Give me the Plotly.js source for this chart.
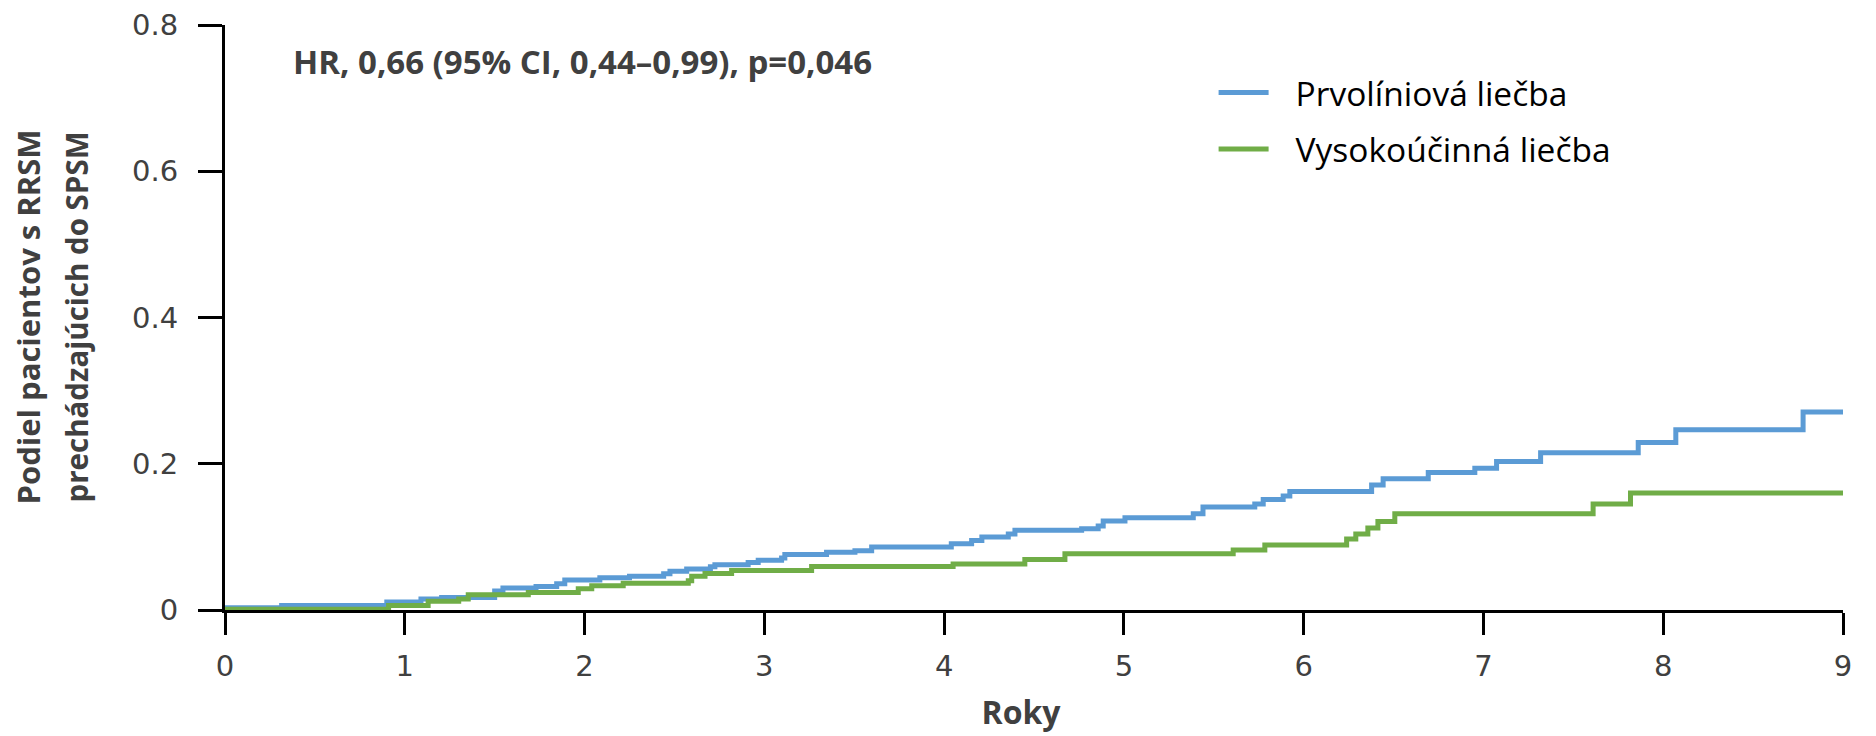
<!DOCTYPE html>
<html>
<head>
<meta charset="utf-8">
<script src="https://cdn.plot.ly/plotly-3.0.1.min.js"></script>
<style>html,body{margin:0;padding:0;background:#fff;}#chart{width:1876px;height:736px;}</style>
</head>
<body>
<div id="chart"></div>
<script>
// Series names
const seriesNames = ["Prvolíniová liečba", "Vysokoúčinná liečba"];

// Blue curve: step times (years) and cumulative proportion
const firstLineTimes = [0, 0.315, 0.90, 1.09, 1.205, 1.50, 1.546, 1.73, 1.845, 1.89, 2.085, 2.25, 2.44, 2.475, 2.568, 2.70, 2.725, 2.91, 2.966, 3.096, 3.114, 3.346, 3.504, 3.597, 4.04, 4.153, 4.21, 4.357, 4.394, 4.765, 4.857, 4.885, 5.006, 5.386, 5.44, 5.728, 5.775, 5.886, 5.923, 6.378, 6.442, 6.693, 6.952, 7.073, 7.318, 7.861, 8.07, 8.778, 9.0];
const firstLineValues = [0.003, 0.006, 0.011, 0.015, 0.017, 0.026, 0.030, 0.032, 0.036, 0.041, 0.044, 0.046, 0.0495, 0.053, 0.056, 0.059, 0.062, 0.065, 0.068, 0.071, 0.076, 0.079, 0.081, 0.086, 0.0905, 0.095, 0.0997, 0.104, 0.109, 0.111, 0.115, 0.1216, 0.126, 0.1317, 0.1407, 0.145, 0.151, 0.156, 0.162, 0.171, 0.1795, 0.188, 0.194, 0.203, 0.215, 0.229, 0.2466, 0.2707, 0.2707];

// Green curve
const highEffTimes = [0, 0.91, 1.13, 1.30, 1.353, 1.687, 1.965, 2.04, 2.215, 2.577, 2.596, 2.67, 2.818, 3.263, 4.05, 4.449, 4.672, 5.608, 5.784, 6.239, 6.29, 6.357, 6.413, 6.507, 7.61, 7.818, 9.0];
const highEffValues = [0.001, 0.006, 0.012, 0.015, 0.021, 0.024, 0.029, 0.033, 0.0367, 0.040, 0.046, 0.050, 0.054, 0.0595, 0.063, 0.069, 0.077, 0.082, 0.089, 0.097, 0.104, 0.112, 0.121, 0.1317, 0.145, 0.160, 0.160];

// Axis ticks
const xTickVals = [0, 1, 2, 3, 4, 5, 6, 7, 8, 9];
const yTickVals = [0, 0.2, 0.4, 0.6, 0.8];
const yTickText = ["0", "0.2", "0.4", "0.6", "0.8"];

// Texts
const xTitle = "Roky";
const yTitleLines = ["Podiel pacientov s RRSM", "prechádzajúcich do SPSM"];
const statText = "HR, 0,66 (95% CI, 0,44–0,99), p=0,046";

const colors = ["#5B9BD5", "#70AD47"];

const traces = [
  {x: firstLineTimes, y: firstLineValues, type: "scatter", mode: "lines", name: seriesNames[0],
   line: {color: colors[0], width: 5, shape: "hv"}, legendgroup: "a"},
  {x: highEffTimes, y: highEffValues, type: "scatter", mode: "lines", name: seriesNames[1],
   line: {color: colors[1], width: 5, shape: "hv"}, legendgroup: "b"}
];

const tickFont = {family: "DejaVu Sans", size: 29, color: "#404040"};

const layout = {
  width: 1876, height: 736,
  margin: {l: 225, r: 33, t: 25, b: 126, pad: 0},
  paper_bgcolor: "#fff", plot_bgcolor: "#fff",
  showlegend: true,
  legend: {
    x: 0.611, y: 0.933, xanchor: "left", yanchor: "top",
    font: {family: "Open Sans", size: 33.5, color: "#000"},
    bgcolor: "rgba(0,0,0,0)", itemwidth: 50,
    traceorder: "grouped", tracegroupgap: 10
  },
  xaxis: {
    range: [0, 9], tickvals: xTickVals, ticktext: xTickVals.map(String),
    showgrid: false, zeroline: false, showline: true, linecolor: "#000", linewidth: 3,
    ticks: "outside", ticklen: 22, tickwidth: 3, tickcolor: "#000",
    tickfont: tickFont, ticklabelstandoff: 6,
    title: {text: xTitle, font: {family: "Open Sans", size: 32, color: "#404040", weight: 700}, standoff: 20},
    fixedrange: true
  },
  yaxis: {
    range: [0, 0.8], tickvals: yTickVals, ticktext: yTickText,
    showgrid: false, zeroline: false, showline: true, linecolor: "#000", linewidth: 3,
    ticks: "outside", ticklen: 24, tickwidth: 3, tickcolor: "#000",
    tickfont: tickFont, ticklabelstandoff: 14,
    fixedrange: true
  },
  annotations: [
    {text: statText, xref: "paper", yref: "paper", x: 0, y: 1, xanchor: "left", yanchor: "middle",
     xshift: 66, yshift: -36, showarrow: false, font: {family: "Open Sans", size: 33, color: "#404040", weight: 700}},
    {text: yTitleLines[0], xref: "paper", yref: "paper", x: 0, y: 0.5, xanchor: "center", yanchor: "middle",
     xshift: -198, yshift: 0, textangle: -90, showarrow: false,
     font: {family: "Open Sans", size: 31, color: "#404040", weight: 700}},
    {text: yTitleLines[1], xref: "paper", yref: "paper", x: 0, y: 0.5, xanchor: "center", yanchor: "middle",
     xshift: -149, yshift: 0, textangle: -90, showarrow: false,
     font: {family: "Open Sans", size: 29.5, color: "#404040", weight: 700}}
  ]
};

Plotly.newPlot("chart", traces, layout, {staticPlot: true, displayModeBar: false}).then(function (gd) {
  // widen the gap between legend line samples and their labels, without clipping them
  gd.querySelectorAll(".legend [clip-path]").forEach(function (el) {
    el.removeAttribute("clip-path");
  });
  gd.querySelectorAll(".legend .legendtext").forEach(function (t) {
    t.setAttribute("transform", "translate(22,0)");
  });
  // x title sits slightly left of the plot centre in the original
  var xt = gd.querySelector(".xtitle");
  if (xt) { xt.setAttribute("x", parseFloat(xt.getAttribute("x")) - 13); }
});
</script>
</body>
</html>
